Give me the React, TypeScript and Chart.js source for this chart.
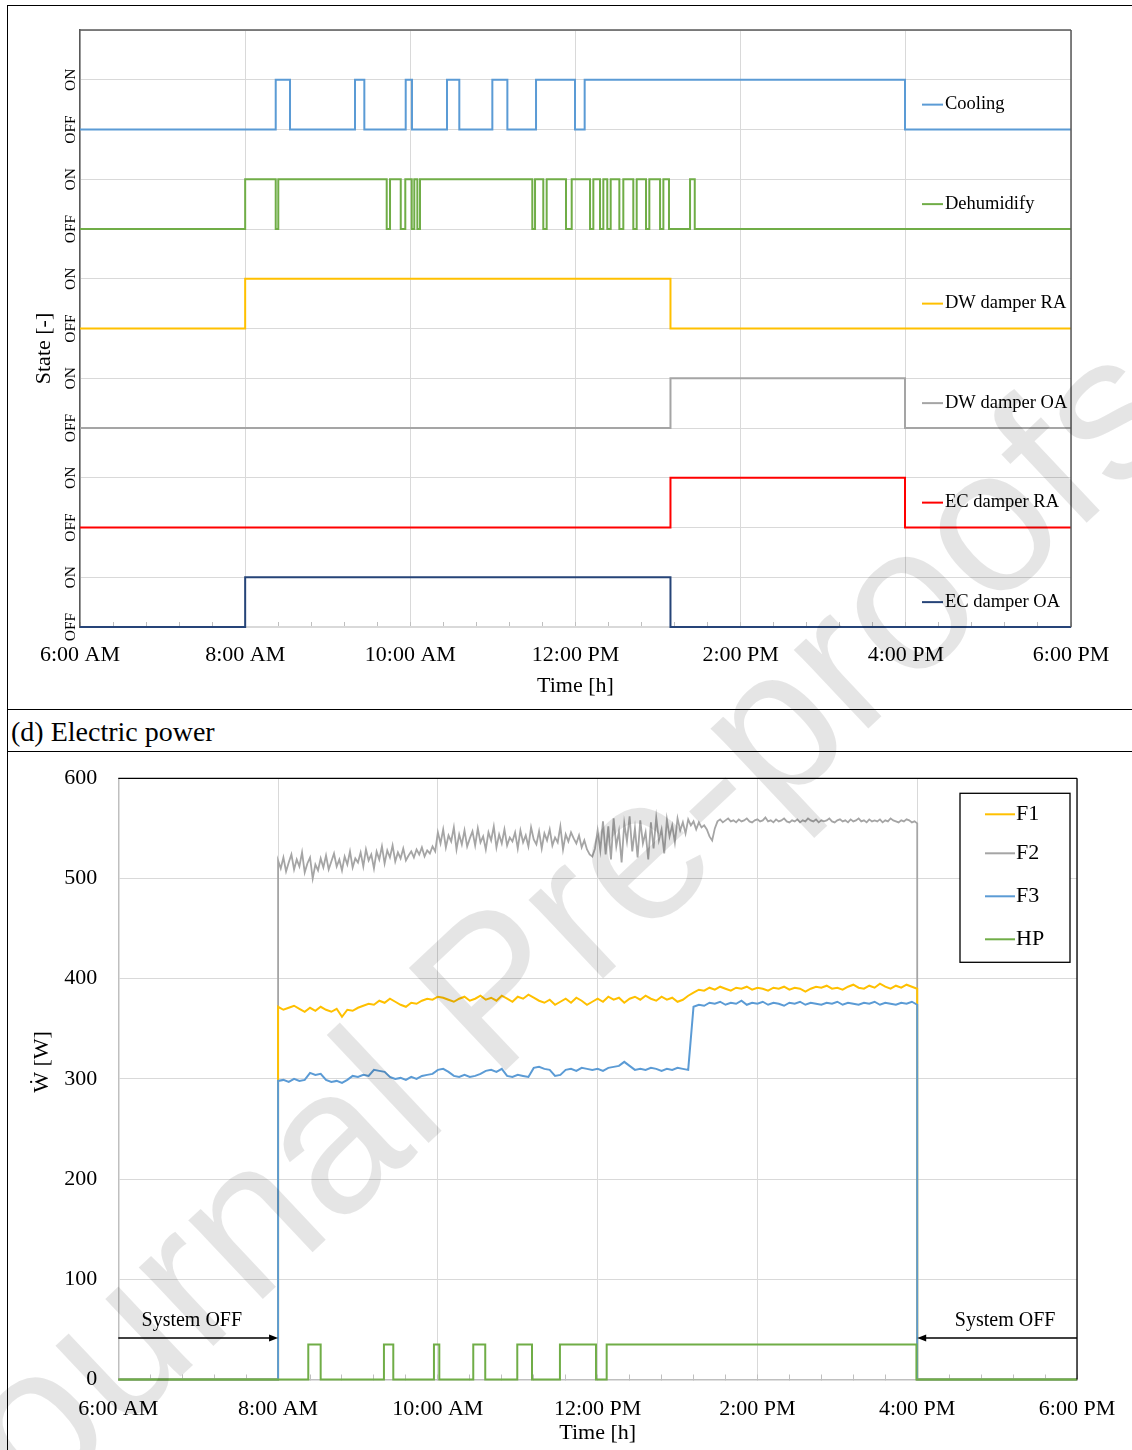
import React, { useEffect, useRef } from "react";
import { Chart, registerables } from "chart.js";

Chart.register(...registerables);

const SERIF = "'Liberation Serif', 'Times New Roman', Times, serif";
const SANS = "'Liberation Sans', Arial, sans-serif";

// ---------- shared time axis ----------
const DAY_START = 6;
const DAY_END = 18;
const MINOR_STEP_H = 0.4;
const X_TICK_LABELS = ["6:00 AM", "8:00 AM", "10:00 AM", "12:00 PM", "2:00 PM", "4:00 PM", "6:00 PM"];
const X_TITLE = "Time [h]";

// ---------- top panel: control states ----------
const STATE_NAMES = ["Cooling", "Dehumidify", "DW damper RA", "DW damper OA", "EC damper RA", "EC damper OA"];
const STATE_COLORS = ["#5b9bd5", "#70ad47", "#ffc000", "#a5a5a5", "#ff0000", "#264478"];
const STATE_OFFSETS = [10, 8, 6, 4, 2, 0];
const STATE_Y_MAX = 12;
const STATE_TICK_OFF = "OFF";
const STATE_TICK_ON = "ON";
const STATE_TITLE = "State [-]";

// ON intervals [start h, end h]
const coolingOn = [[8.37, 8.543], [9.33, 9.443], [9.944, 10.02], [10.444, 10.593], [10.993, 11.175], [11.522, 11.994], [12.111, 15.99]];
const dehumidifyOn = [[8.0, 8.37], [8.401, 9.714], [9.754, 9.884], [9.939, 10.017], [10.048, 10.085], [10.117, 11.477], [11.51, 11.61], [11.651, 11.885], [11.954, 12.176], [12.216, 12.297], [12.337, 12.385], [12.426, 12.531], [12.579, 12.7], [12.741, 12.854], [12.894, 13.024], [13.064, 13.132], [13.387, 13.444]];
const dwDamperRaOn = [[8.0, 13.15]];
const dwDamperOaOn = [[13.15, 15.99]];
const ecDamperRaOn = [[13.15, 15.99]];
const ecDamperOaOn = [[8.0, 13.15]];
const STATE_ON = [coolingOn, dehumidifyOn, dwDamperRaOn, dwDamperOaOn, ecDamperRaOn, ecDamperOaOn];

// ---------- bottom panel: electric power ----------
const PANEL_D_TITLE = "(d) Electric power";
const POWER_NAMES = ["F1", "F2", "F3", "HP"];
const POWER_COLORS = ["#ffc000", "#a5a5a5", "#5b9bd5", "#70ad47"];
const POWER_Y_MAX = 600;
const POWER_Y_STEP = 100;
const POWER_TITLE = "\u1E86 [W]";
const SYSTEM_ON = 8.0;
const SYSTEM_OFF = 16.0;
const SAMPLE_START_H = 8.0;
const F1_STEP_H = 4 / 60;
const F2_STEP_H = 2 / 60;
const F3_STEP_H = 4 / 60;

// F1 every 4 min, 8:00-16:00
const f1 = [
  372, 369, 371, 373, 370, 367, 371, 368, 372, 369,
  367, 370, 362, 369, 368, 371, 373, 375, 374, 378,
  376, 380, 377, 374, 372, 376, 375, 378, 380, 379,
  382, 381, 379, 377, 380, 382, 378, 380, 383, 379,
  381, 378, 383, 380, 377, 382, 380, 384, 381, 378,
  376, 379, 374, 377, 380, 376, 381, 378, 374, 377,
  380, 377, 382, 379, 381, 376, 380, 382, 379, 383,
  380, 378, 382, 379, 381, 377, 379, 383, 386, 389,
  388, 391, 389, 392, 390, 388, 391, 390, 392, 389,
  391, 390, 388, 391, 390, 392, 389, 391, 390, 387,
  390, 392, 391, 393, 390, 391, 389, 392, 394, 391,
  390, 393, 391, 395, 392, 390, 393, 391, 394, 392,
  390,
];
// F2 every 2 min, 8:00-16:00
const f2 = [
  518, 510, 521, 507, 516, 524, 509, 519, 512, 526, 506, 515, 521, 500, 514, 508, 520, 511, 523, 509, 517, 525, 512, 519, 508, 522, 514, 527, 511, 520,
  516, 526, 512, 529, 518, 524, 510, 527, 519, 532, 515, 528, 521, 533, 517, 526, 520, 530, 518, 523, 527, 521, 529, 524, 531, 522, 528, 525, 532, 527,
  546, 535, 549, 531, 543, 537, 551, 529, 544, 534, 548, 532, 540, 547, 533, 550, 536, 542, 529, 546, 538, 552, 531, 544, 535, 549, 533, 541, 537, 546,
  530, 548, 536, 543, 532, 551, 539, 534, 547, 530, 545, 538, 549, 533, 541, 536, 552, 529, 544, 537, 546, 540, 535, 543, 531, 538, 529, 524, 522, 530,
  548, 528, 557, 524, 552, 519, 560, 532, 547, 516, 555, 537, 562, 527, 550, 521, 558, 535, 546, 519, 556, 530, 561, 538, 549, 525, 559, 542, 553, 536,
  560, 548, 556, 545, 559, 553, 557, 549, 556, 551, 553, 549, 542, 538, 550,
  557, 559, 556, 558, 560, 557, 558, 556, 559, 557,
  558, 560, 557, 556, 558, 559, 557, 558, 561, 557,
  558, 556, 559, 557, 558, 560, 557, 556, 558, 557,
  559, 556, 558, 557, 560, 558, 557, 559, 556, 558,
  557, 558, 560, 557, 556, 558, 559, 557, 558, 556,
  559, 557, 558, 560, 557, 558, 556, 559, 557, 558,
  557, 559, 556, 558, 557, 560, 558, 557, 556, 558,
  557, 559, 558, 556, 557, 555,
];
// F3 every 4 min, 8:00-16:00
const f3 = [
  298, 299, 297, 300, 298, 299, 306, 304, 305, 299,
  297, 298, 296, 299, 303, 302, 304, 303, 309, 308,
  307, 302, 300, 301, 299, 302, 300, 303, 304, 305,
  309, 310, 307, 303, 302, 304, 302, 303, 305, 308,
  309, 307, 310, 303, 302, 304, 303, 302, 311, 312,
  310, 309, 303, 304, 309, 310, 308, 311, 310, 309,
  310, 308, 311, 312, 313, 317, 313, 309, 310, 309,
  311, 310, 308, 310, 309, 311, 310, 309, 372, 374,
  373, 376, 375, 377, 374, 376, 375, 378, 374, 376,
  375, 377, 374, 376, 375, 373, 376, 375, 377, 374,
  376, 375, 374, 376, 375, 377, 374, 376, 375, 374,
  376, 375, 377, 374, 376, 375, 374, 376, 375, 377,
  374,
];
const hpOn = [[8.378, 8.533], [9.325, 9.442], [9.951, 10.018], [10.443, 10.593], [10.994, 11.178], [11.528, 11.979], [12.113, 15.99]];
const HP_ON_W = 35;

const SYSTEM_OFF_LABEL = "System OFF";
const SYSTEM_OFF_NOTES = [
  { from: DAY_START, to: SYSTEM_ON, labelAt: 6.92 },
  { from: DAY_END, to: SYSTEM_OFF, labelAt: 17.1 },
];
const ARROW_LEVEL_W = 41.5;
const NOTE_LEVEL_W = 58.5;

const WATERMARK = "Journal Pre-proofs";

// ---------- helpers ----------
function isMajorHour(v: number) {
  const r = Math.round(v);
  return Math.abs(v - r) < 1e-6 && (r - DAY_START) % 2 === 0;
}
function hourLabel(v: number) {
  return isMajorHour(v) ? X_TICK_LABELS[(Math.round(v) - DAY_START) / 2] : "";
}
function stepSeries(intervals: number[][], base: number, high: number) {
  const pts = [{ x: DAY_START, y: base }];
  intervals.forEach(([a, b]) => {
    pts.push({ x: a, y: base + high });
    pts.push({ x: b, y: base });
  });
  pts.push({ x: DAY_END, y: base });
  return pts;
}
function sampledSeries(values: number[], stepH: number) {
  const pts = [{ x: DAY_START, y: 0 }, { x: SYSTEM_ON, y: 0 }];
  values.forEach((v, i) => pts.push({ x: SAMPLE_START_H + i * stepH, y: v }));
  pts.push({ x: SYSTEM_OFF, y: 0 });
  pts.push({ x: DAY_END, y: 0 });
  return pts;
}
function text(ctx: CanvasRenderingContext2D, s: string, x: number, y: number, font: string, rot = 0, align: CanvasTextAlign = "center") {
  ctx.save();
  ctx.translate(x, y);
  ctx.rotate(rot);
  ctx.font = font;
  ctx.fillStyle = "#000";
  ctx.textAlign = align;
  ctx.textBaseline = "middle";
  ctx.fillText(s, 0, 0);
  ctx.restore();
}
function line(ctx: CanvasRenderingContext2D, x1: number, y1: number, x2: number, y2: number, color: string, w: number) {
  ctx.save();
  ctx.beginPath();
  ctx.moveTo(x1, y1);
  ctx.lineTo(x2, y2);
  ctx.strokeStyle = color;
  ctx.lineWidth = w;
  ctx.stroke();
  ctx.restore();
}
function noPad(s: any) {
  s.paddingTop = 0;
  s.paddingBottom = 0;
  s.paddingLeft = 0;
  s.paddingRight = 0;
}

function xAxis(height: number, borderColor: string, labelPad: number, titlePadBottom: number) {
  return {
    type: "linear" as const,
    min: DAY_START,
    max: DAY_END,
    afterFit: (s: any) => { s.height = height; noPad(s); },
    ticks: {
      stepSize: MINOR_STEP_H,
      autoSkip: false,
      maxRotation: 0,
      minRotation: 0,
      padding: labelPad,
      color: "#000",
      font: { family: SERIF, size: 22 },
      callback: (v: any) => hourLabel(Number(v)),
    },
    grid: {
      color: (c: any) => (c.tick && isMajorHour(c.tick.value) ? "#d9d9d9" : "rgba(0,0,0,0)"),
      tickColor: "#bfbfbf",
      tickLength: -5,
      drawTicks: true,
      lineWidth: 1,
    },
    border: { color: borderColor, width: 1.5 },
    title: { display: true, text: X_TITLE, color: "#000", font: { family: SERIF, size: 22 }, padding: { top: 0, bottom: titlePadBottom } },
  };
}

// ---------- top chart ----------
function StateChart() {
  const ref = useRef<HTMLCanvasElement>(null);
  useEffect(() => {
    const canvas = ref.current!;
    const datasets = STATE_NAMES.map((name, k) => ({
      label: name,
      data: stepSeries(STATE_ON[k], STATE_OFFSETS[k], 1),
      borderColor: STATE_COLORS[k],
      backgroundColor: STATE_COLORS[k],
      borderWidth: 2,
      pointRadius: 0,
      stepped: true,
      fill: false,
      clip: 4,
    }));
    const decor = {
      id: "stateDecor",
      afterDatasetsDraw(chart: any) {
        const { ctx, chartArea: a, scales } = chart;
        line(ctx, a.left, a.top, a.right, a.top, "#595959", 1.5);
        line(ctx, a.right, a.top, a.right, a.bottom, "#595959", 1.5);
        STATE_NAMES.forEach((name, k) => {
          const y = scales.y.getPixelForValue(STATE_OFFSETS[k] + 0.5);
          line(ctx, a.right - 149, y, a.right - 128, y, STATE_COLORS[k], 2);
          text(ctx, name, a.right - 126, y, `18.5px ${SERIF}`, 0, "left");
        });
        text(ctx, STATE_TITLE, 44, (a.top + a.bottom) / 2 + 20, `22px ${SERIF}`, -Math.PI / 2);
      },
    };
    const chart = new Chart(canvas, {
      type: "line",
      data: { datasets } as any,
      options: {
        responsive: false,
        animation: false,
        layout: { padding: { left: 0, top: 30, right: 61, bottom: 0 } },
        plugins: { legend: { display: false }, tooltip: { enabled: false } },
        elements: { line: { tension: 0 } },
        scales: {
          x: xAxis(82, "#d9d9d9", 20, 10) as any,
          y: {
            type: "linear",
            min: 0,
            max: STATE_Y_MAX,
            afterFit: (s: any) => { s.width = 80; noPad(s); },
            ticks: {
              stepSize: 1,
              autoSkip: false,
              minRotation: 90,
              maxRotation: 90,
              crossAlign: "center",
              padding: -5,
              color: "#000",
              font: { family: SERIF, size: 15.5 },
              callback: (v: any) => (Number(v) >= STATE_Y_MAX ? "" : Number(v) % 2 === 0 ? STATE_TICK_OFF : STATE_TICK_ON),
            },
            grid: { color: "#d9d9d9", drawTicks: false, lineWidth: 1 },
            border: { color: "#595959", width: 1.5 },
          },
        },
      },
      plugins: [decor],
    });
    return () => chart.destroy();
  }, []);
  return <canvas ref={ref} width={1132} height={709} style={{ position: "absolute", left: 0, top: 0, width: 1132, height: 709 }} />;
}

// ---------- bottom chart ----------
function PowerChart() {
  const ref = useRef<HTMLCanvasElement>(null);
  useEffect(() => {
    const canvas = ref.current!;
    const series = [
      sampledSeries(f1, F1_STEP_H),
      sampledSeries(f2, F2_STEP_H),
      sampledSeries(f3, F3_STEP_H),
      stepSeries(hpOn, 0, HP_ON_W),
    ];
    const drawOrder = [2, 3, 1, 0];
    const datasets = POWER_NAMES.map((name, k) => ({
      label: name,
      data: series[k],
      borderColor: POWER_COLORS[k],
      backgroundColor: POWER_COLORS[k],
      borderWidth: k === 1 ? 1.8 : 2,
      pointRadius: 0,
      stepped: k === 3,
      fill: false,
      clip: 4,
      order: drawOrder[k],
    }));
    const decor = {
      id: "powerDecor",
      afterDatasetsDraw(chart: any) {
        const { ctx, chartArea: a, scales } = chart;
        line(ctx, a.left, a.top, a.right, a.top, "#000", 1.3);
        line(ctx, a.right, a.top, a.right, a.bottom, "#000", 1.3);
        // System OFF notes
        const ya = scales.y.getPixelForValue(ARROW_LEVEL_W);
        const yn = scales.y.getPixelForValue(NOTE_LEVEL_W);
        SYSTEM_OFF_NOTES.forEach((n) => {
          const x1 = scales.x.getPixelForValue(n.from);
          const x2 = scales.x.getPixelForValue(n.to);
          const dir = Math.sign(x2 - x1);
          line(ctx, x1, ya, x2 - dir * 6, ya, "#000", 1.5);
          ctx.save();
          ctx.beginPath();
          ctx.moveTo(x2, ya);
          ctx.lineTo(x2 - dir * 9, ya - 3.5);
          ctx.lineTo(x2 - dir * 9, ya + 3.5);
          ctx.closePath();
          ctx.fillStyle = "#000";
          ctx.fill();
          ctx.restore();
          text(ctx, SYSTEM_OFF_LABEL, scales.x.getPixelForValue(n.labelAt), yn, `20px ${SERIF}`);
        });
        // legend
        const bx = a.right - 117, by = a.top + 15, bw = 110, bh = 169;
        ctx.save();
        ctx.fillStyle = "#fff";
        ctx.fillRect(bx, by, bw, bh);
        ctx.strokeStyle = "#000";
        ctx.lineWidth = 1.3;
        ctx.strokeRect(bx, by, bw, bh);
        ctx.restore();
        const rowY = [21, 60, 103, 146];
        POWER_NAMES.forEach((name, k) => {
          const y = by + rowY[k];
          line(ctx, bx + 25, y, bx + 55, y, POWER_COLORS[k], 2);
          text(ctx, name, bx + 56, y, `22px ${SERIF}`, 0, "left");
        });
        text(ctx, POWER_TITLE, 42, (a.top + a.bottom) / 2 - 17, `22px ${SERIF}`, -Math.PI / 2);
      },
    };
    const chart = new Chart(canvas, {
      type: "line",
      data: { datasets } as any,
      options: {
        responsive: false,
        animation: false,
        layout: { padding: { left: 0, top: 27.3, right: 55, bottom: 0 } },
        plugins: { legend: { display: false }, tooltip: { enabled: false } },
        elements: { line: { tension: 0 } },
        scales: {
          x: xAxis(70.5, "#bfbfbf", 22, 4) as any,
          y: {
            type: "linear",
            min: 0,
            max: POWER_Y_MAX,
            afterFit: (s: any) => { s.width = 118.3; noPad(s); },
            ticks: {
              stepSize: POWER_Y_STEP,
              autoSkip: false,
              padding: 21,
              color: "#000",
              font: { family: SERIF, size: 22 },
            },
            grid: { color: "#d9d9d9", drawTicks: false, lineWidth: 1 },
            border: { color: "#bfbfbf", width: 1.5 },
          },
        },
      },
      plugins: [decor],
    });
    return () => chart.destroy();
  }, []);
  return <canvas ref={ref} width={1132} height={699} style={{ position: "absolute", left: 0, top: 751, width: 1132, height: 699 }} />;
}

export default function App() {
  const rule = (style: React.CSSProperties) => <div style={{ position: "absolute", background: "#000", ...style }} />;
  return (
    <div style={{ position: "absolute", left: 0, top: 0, width: 1132, height: 1450, background: "#fff", overflow: "hidden" }}>
      <StateChart />
      <PowerChart />
      {rule({ left: 7, top: 5, width: 1125, height: 1 })}
      {rule({ left: 7, top: 5, width: 1, height: 1445 })}
      {rule({ left: 7, top: 709, width: 1125, height: 1 })}
      {rule({ left: 7, top: 751, width: 1125, height: 1 })}
      <div style={{ position: "absolute", left: 11, top: 718, fontFamily: SERIF, fontSize: 28, lineHeight: 1, color: "#000", whiteSpace: "nowrap" }}>
        {PANEL_D_TITLE}
      </div>
      <div
        style={{
          position: "absolute",
          left: 527,
          top: 952,
          transform: "translate(-50%, -50%) rotate(-43.3deg)",
          fontFamily: SANS,
          fontSize: 205,
          lineHeight: 1,
          whiteSpace: "nowrap",
          color: "rgba(0,0,0,0.1)",
          pointerEvents: "none",
        }}
      >
        {WATERMARK}
      </div>
    </div>
  );
}
